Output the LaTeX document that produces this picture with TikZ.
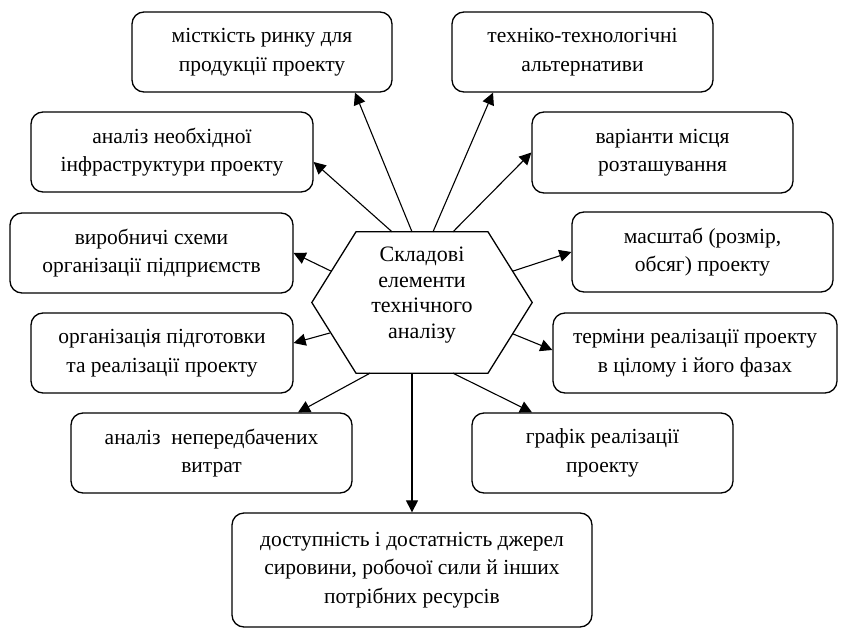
\documentclass[tikz,border=0pt]{standalone}
\usepackage{fontspec}
\setmainfont{Liberation Serif}
\usetikzlibrary{arrows.meta}
\begin{document}
\begin{tikzpicture}[x=1pt,y=-1pt,
  box/.style={draw, rounded corners=12pt, line width=1.3pt, align=center,
    font=\fontsize{21.5}{28.5}\selectfont, inner sep=0pt},
  conn/.style={line width=1.1pt, -{Triangle[length=12pt,width=12pt]}},
  hexline/.style={draw, line width=1.3pt, line join=miter}]
\useasboundingbox (0,0) rectangle (842,631);

\node[box, minimum width=260pt, minimum height=80pt] (b1) at (262,52) {місткість ринку для\\продукції проекту};
\node[box, minimum width=261pt, minimum height=80pt] (b2) at (582.5,52) {техніко-технологічні\\альтернативи};
\node[box, minimum width=282pt, minimum height=80pt] (b3) at (172,152) {аналіз необхідної\\інфраструктури проекту};
\node[box, minimum width=261pt, minimum height=81pt] (b4) at (662.5,152.5) {варіанти місця\\розташування};
\node[box, minimum width=283pt, minimum height=80pt] (b5) at (151.5,253) {виробничі схеми\\організації підприємств};
\node[box, minimum width=261pt, minimum height=80pt] (b6) at (702.5,252) {масштаб (розмір,\\обсяг) проекту};
\node[box, minimum width=262pt, minimum height=80pt] (b7) at (162,353) {організація підготовки\\та реалізації проекту};
\node[box, minimum width=284pt, minimum height=80pt] (b8) at (695,353) {терміни реалізації проекту\\в цілому і його фазах};
\node[box, minimum width=281pt, minimum height=80pt] (b9) at (211.5,453) {аналіз\ \ непередбачених\\витрат};
\node[box, minimum width=261pt, minimum height=80pt] (b10) at (602.5,453) {графік реалізації\\проекту};
\node[box, minimum width=360pt, minimum height=114pt] (b11) at (412,570) {доступність і достатність джерел\\сировини, робочої сили й інших\\потрібних ресурсів};

% hexagon
\node[minimum width=220pt, minimum height=141pt, inner sep=0pt] (hex) at (422,302.5) {};
\path[hexline] (hex.west) -- ([xshift=-66pt]hex.north) -- ([xshift=66pt]hex.north)
  -- (hex.east) -- ([xshift=66pt]hex.south) -- ([xshift=-66pt]hex.south) -- cycle;
\node[align=center, font=\fontsize{22}{25.5}\selectfont, inner sep=0pt] (hextext) at (422,295)
  {Складові\\елементи\\технічного\\аналізу};

% connectors
\draw[conn] ([xshift=-10pt]hex.north) -- ([xshift=93pt]b1.south);
\draw[conn] ([xshift=11pt]hex.north) -- ([xshift=-89.5pt]b2.south);
\draw[conn] ([xshift=-30pt]hex.north) -- ([yshift=-10pt]b3.east);
\draw[conn] ([xshift=31pt]hex.north) -- (b4.west);
\draw[conn] ([xshift=19pt,yshift=31.5pt]hex.west) -- (b5.east);
\draw[conn] ([xshift=-19pt,yshift=31.5pt]hex.east) -- (b6.west);
\draw[conn] ([xshift=18pt,yshift=-30.5pt]hex.west) -- ([yshift=10pt]b7.east);
\draw[conn] ([xshift=-19pt,yshift=-31.5pt]hex.east) -- ([yshift=3pt]b8.west);
\draw[conn] ([xshift=-52pt]hex.south) -- ([xshift=86.5pt]b9.north);
\draw[conn] ([xshift=31pt]hex.south) -- ([xshift=-70.5pt]b10.north);
\draw[conn] ([xshift=-10pt]hex.south) -- (b11.north);
\end{tikzpicture}
\end{document}
